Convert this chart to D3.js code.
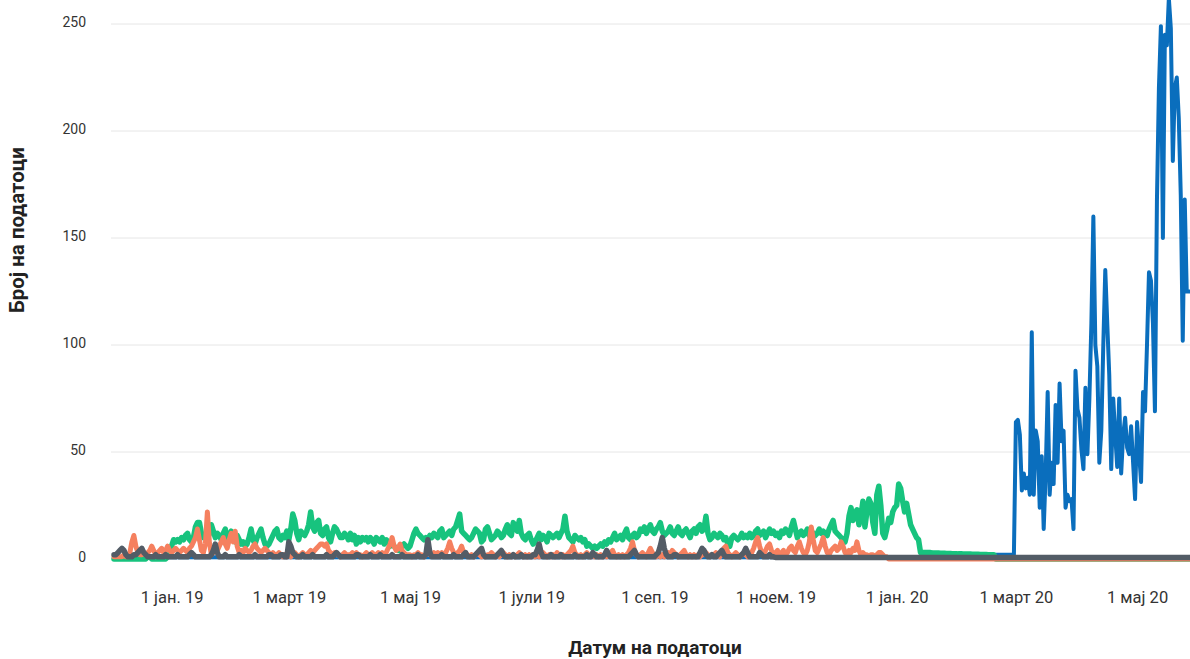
<!DOCTYPE html>
<html>
<head>
<meta charset="utf-8">
<script src="https://cdn.jsdelivr.net/npm/d3@7"></script>
<style>
  html, body { margin: 0; padding: 0; background: #ffffff; }
  svg { display: block; }
</style>
</head>
<body>
<svg id="chart" width="1190" height="659"></svg>
<script>
// ---------------- DATA ----------------
// first day of each monthly chunk of daily counts
const monthStarts = ["2018-12-03","2019-01-01","2019-02-01","2019-03-01","2019-04-01","2019-05-01",
  "2019-06-01","2019-07-01","2019-08-01","2019-09-01","2019-10-01","2019-11-01","2019-12-01",
  "2020-01-01","2020-02-01","2020-03-01","2020-04-01","2020-05-01"];

const greenCounts = [
  [0,0,0,0,0,0,0,0,0,0,0,0,0,0,0,0,0,1,1,0,0,0,0,0,0,0,0,1,2],
  [6,9,8,9,8,10,9,11,12,9,8,10,15,17,17,12,10,11,9,12,16,13,10,12,11,9,12,14,9,11,13],
  [10,8,11,9,7,8,6,7,10,14,9,7,10,12,14,10,7,6,7,9,11,13,14,10,9,11,10,13],
  [9,14,21,18,12,9,13,12,11,13,16,22,15,13,17,18,12,11,14,15,10,8,12,15,14,12,10,10,12,11,9],
  [12,9,11,7,10,8,10,9,10,8,10,9,7,10,9,8,10,7,9,8,6,7,6,5,4,4,6,7,6,5],
  [6,9,12,14,12,11,10,9,10,9,11,10,12,11,10,13,14,10,11,12,13,11,14,15,18,21,13,12,11,10,9],
  [10,12,14,13,12,8,9,14,15,12,9,10,11,13,12,10,11,14,16,12,11,17,15,13,18,12,10,9,11,12],
  [9,7,8,10,12,9,11,10,8,12,11,10,11,12,10,12,14,20,13,10,9,8,11,10,9,10,8,9,6,7,6],
  [5,6,5,6,7,6,8,7,9,8,10,12,9,10,11,9,12,14,10,9,11,12,10,11,14,13,15,12,14,16,13],
  [12,14,15,17,13,11,12,13,15,12,11,13,15,12,11,13,14,12,10,13,14,12,15,16,13,14,20,12,9,10],
  [12,11,10,12,11,9,10,7,6,10,11,10,9,10,12,10,11,10,12,10,11,13,14,11,12,13,10,12,14,12,13],
  [11,12,10,13,12,14,13,11,15,18,14,10,12,13,11,12,14,11,13,12,11,12,14,12,13,12,11,14,16,18],
  [13,12,11,10,9,8,12,20,24,18,21,23,16,20,27,15,22,28,26,17,12,30,34,25,12,10,14,19,17,22,24],
  [25,35,33,27,22,26,21,16,14,12,10,9,3,3,3,3,3,3,2.8,2.8,2.8,2.8,2.7,2.7,2.7,2.6,2.6,2.6,2.5,2.5,2.5],
  [2.4,2.4,2.4,2.3,2.3,2.3,2.3,2.2,2.2,2.2,2.2,2.1,2.1,2.1,2.1,2,2,2,2,0,0,0,0,0,0,0,0,0,0],
  [0,0,0,0,0,0,0,0,0,0,0,0,0,0,0,0,0,0,0,0,0,0,0,0,0,0,0,0,0,0,0],
  [0,0,0,0,0,0,0,0,0,0,0,0,0,0,0,0,0,0,0,0,0,0,0,0,0,0,0,0,0,0],
  [0,0,0,0,0,0,0,0,0,0,0,0,0,0,0,0,0,0,0,0,0,0,0,0,0,0,0,0]
];

const orangeCounts = [
  [1,1,1,1,1,2,1,1,3,8,11,6,3,2,2,3,2,3,4,6,4,2,3,4,5,3,4,6,4],
  [3,4,5,4,3,4,5,4,3,5,6,8,10,14,9,4,3,7,22,8,2,3,5,4,6,8,10,7,5,9,12],
  [8,13,6,3,4,3,5,4,3,4,6,7,5,4,3,4,5,4,3,2,3,2,2,3,2,1,2,1],
  [2,1,2,3,2,1,2,3,2,2,3,4,3,4,5,6,7,7,6,7,4,3,2,3,2,2,1,2,3,2,2],
  [2,3,2,3,2,2,1,2,3,2,2,3,2,2,3,2,3,2,3,5,7,10,6,4,5,7,4,3,2,2],
  [2,1,2,2,3,2,2,1,2,3,2,2,3,2,3,2,3,2,3,5,8,5,3,2,3,4,6,3,2,2,1],
  [2,1,2,3,2,1,2,1,2,2,3,2,1,2,1,2,3,2,1,2,1,2,1,2,3,2,1,2,1,2],
  [1,2,1,2,1,2,3,2,1,2,1,2,1,3,2,1,2,1,2,3,4,6,3,2,1,2,1,2,3,2,1],
  [2,1,2,1,2,1,2,1,2,3,4,2,1,2,1,2,1,2,3,5,8,4,2,1,2,3,2,1,3,5,3],
  [2,1,2,1,2,1,2,3,2,4,3,2,1,2,3,4,2,1,2,1,2,1,2,1,2,2,3,2,1,2],
  [2,3,2,1,3,5,6,3,2,1,2,3,2,1,2,3,2,1,2,3,5,8,10,6,3,2,4,6,7,4,2],
  [3,4,2,3,4,2,3,5,6,4,3,6,8,5,3,2,4,8,15,9,4,3,5,7,10,6,3,2,4,5],
  [6,4,5,8,6,3,2,4,3,5,4,8,4,2,3,2,2,1,2,2,1,2,3,3,2,1,1,0,0,0,0],
  [0,0,0,0,0,0,0,0,0,0,0,0,0,0,0,0,0,0,0,0,0,0,0,0,0,0,0,0,0,0,0],
  [0,0,0,0,0,0,0,0,0,0,0,0,0,0,0,0,0,0,0,0,0,0,0,0,0,0,0,0,0],
  [0,0,0,0,0,0,0,0,0,0,0,0,0,0,0,0,0,0,0,0,0,0,0,0,0,0,0,0,0,0,0],
  [0,0,0,0,0,0,0,0,0,0,0,0,0,0,0,0,0,0,0,0,0,0,0,0,0,0,0,0,0,0],
  [0,0,0,0,0,0,0,0,0,0,0,0,0,0,0,0,0,0,0,0,0,0,0,0,0,0,0,0]
];

const grayCounts = [
  [2,2,3,4,5,4,2,1,1,1,2,2,3,4,5,3,2,1,1,1,1,2,1,1,1,1,2,1,1],
  [1,1,1,2,1,1,1,1,1,2,3,2,1,1,1,1,1,1,1,1,2,4,7,3,1,1,1,2,1,1,1],
  [1,1,1,2,1,1,1,1,1,1,1,2,1,1,1,1,1,1,2,2,1,1,1,1,2,2,1,1],
  [8,6,3,2,1,1,1,2,1,1,1,1,2,1,1,1,1,1,1,2,1,1,1,2,3,2,1,1,1,1,1],
  [1,1,1,2,2,1,1,1,1,1,2,1,1,1,1,2,1,1,1,1,1,2,1,1,1,1,2,1,1,1],
  [1,1,1,1,2,1,1,1,2,9,3,1,1,1,1,1,2,1,1,1,1,1,2,1,1,1,1,2,3,1,1],
  [1,1,2,3,4,5,2,1,1,1,1,1,1,2,3,4,2,1,1,1,1,2,1,1,1,2,1,1,1,1],
  [1,2,2,4,7,3,1,1,1,1,2,1,1,1,1,2,1,1,1,1,1,1,2,1,1,1,1,1,2,1,1],
  [3,2,1,1,1,1,2,4,2,1,1,1,1,1,1,1,1,1,1,2,3,4,2,1,1,1,1,1,1,1,1],
  [1,2,3,6,10,5,2,1,1,1,2,2,1,1,1,1,1,1,1,1,1,1,1,3,5,4,2,1,1,2],
  [1,1,2,3,4,2,1,1,1,1,1,1,1,1,2,3,5,3,1,1,1,1,1,3,2,1,1,1,2,1,1],
  [0.7,0.7,0.7,0.7,0.7,0.7,0.7,0.7,0.7,0.7,0.7,0.7,0.7,0.7,0.7,0.7,0.7,0.7,0.7,0.7,0.7,0.7,0.7,0.7,0.7,0.7,0.7,0.7,0.7,0.7],
  [0.7,0.7,0.7,0.7,0.7,0.7,0.7,0.7,0.7,0.7,0.7,0.7,0.7,0.7,0.7,0.7,0.7,0.7,0.7,0.7,0.7,0.7,0.7,0.7,0.7,0.7,0.7,0.7,0.7,0.7,0.7],
  [0.7,0.7,0.7,0.7,0.7,0.7,0.7,0.7,0.7,0.7,0.7,0.7,0.7,0.7,0.7,0.7,0.7,0.7,0.7,0.7,0.7,0.7,0.7,0.7,0.7,0.7,0.7,0.7,0.7,0.7,0.7],
  [0.7,0.7,0.7,0.7,0.7,0.7,0.7,0.7,0.7,0.7,0.7,0.7,0.7,0.7,0.7,0.7,0.7,0.7,0.7,0.7,0.7,0.7,0.7,0.7,0.7,0.7,0.7,0.7,0.7],
  [0.7,0.7,0.7,0.7,0.7,0.7,0.7,0.7,0.7,0.7,0.7,0.7,0.7,0.7,0.7,0.7,0.7,0.7,0.7,0.7,0.7,0.7,0.7,0.7,0.7,0.7,0.7,0.7,0.7,0.7,0.7],
  [0.7,0.7,0.7,0.7,0.7,0.7,0.7,0.7,0.7,0.7,0.7,0.7,0.7,0.7,0.7,0.7,0.7,0.7,0.7,0.7,0.7,0.7,0.7,0.7,0.7,0.7,0.7,0.7,0.7,0.7],
  [0.7,0.7,0.7,0.7,0.7,0.7,0.7,0.7,0.7,0.7,0.7,0.7,0.7,0.7,0.7,0.7,0.7,0.7,0.7,0.7,0.7,0.7,0.7,0.7,0.7,0.7,0.7,0.7]
];

const blueCounts = [
  [0.8,0.8,0.8,0.8,0.8,0.8,0.8,0.8,0.8,0.8,0.8,0.8,0.8,0.8,0.8,0.8,0.8,0.8,0.8,0.8,0.8,0.8,0.8,0.8,0.8,0.8,0.8,0.8,0.8],
  [0.8,0.8,0.8,0.8,0.8,0.8,0.8,0.8,0.8,0.8,0.8,0.8,0.8,0.8,0.8,0.8,0.8,0.8,0.8,0.8,0.8,0.8,0.8,0.8,0.8,0.8,0.8,0.8,0.8,0.8,0.8],
  [0.8,0.8,0.8,0.8,0.8,0.8,0.8,0.8,0.8,0.8,0.8,0.8,0.8,0.8,0.8,0.8,0.8,0.8,0.8,0.8,0.8,0.8,0.8,0.8,0.8,0.8,0.8,0.8],
  [0.8,0.8,0.8,0.8,0.8,0.8,0.8,0.8,0.8,0.8,0.8,0.8,0.8,0.8,0.8,0.8,0.8,0.8,0.8,0.8,0.8,0.8,0.8,0.8,0.8,0.8,0.8,0.8,0.8,0.8,0.8],
  [0.8,0.8,0.8,0.8,0.8,0.8,0.8,0.8,0.8,0.8,0.8,0.8,0.8,0.8,0.8,0.8,0.8,0.8,0.8,0.8,0.8,0.8,0.8,0.8,0.8,0.8,0.8,0.8,0.8,0.8],
  [0.8,0.8,0.8,0.8,0.8,0.8,0.8,0.8,0.8,0.8,0.8,0.8,0.8,0.8,0.8,0.8,0.8,0.8,0.8,0.8,0.8,0.8,0.8,0.8,0.8,0.8,0.8,0.8,0.8,0.8,0.8],
  [0.8,0.8,0.8,0.8,0.8,0.8,0.8,0.8,0.8,0.8,0.8,0.8,0.8,0.8,0.8,0.8,0.8,0.8,0.8,0.8,0.8,0.8,0.8,0.8,0.8,0.8,0.8,0.8,0.8,0.8],
  [0.8,0.8,0.8,0.8,0.8,0.8,0.8,0.8,0.8,0.8,0.8,0.8,0.8,0.8,0.8,0.8,0.8,0.8,0.8,0.8,0.8,0.8,0.8,0.8,0.8,0.8,0.8,0.8,0.8,0.8,0.8],
  [0.8,0.8,0.8,0.8,0.8,0.8,0.8,0.8,0.8,0.8,0.8,0.8,0.8,0.8,0.8,0.8,0.8,0.8,0.8,0.8,0.8,0.8,0.8,0.8,0.8,0.8,0.8,0.8,0.8,0.8,0.8],
  [0.8,0.8,0.8,0.8,0.8,0.8,0.8,0.8,0.8,0.8,0.8,0.8,0.8,0.8,0.8,0.8,0.8,0.8,0.8,0.8,0.8,0.8,0.8,0.8,0.8,0.8,0.8,0.8,0.8,0.8],
  [0.8,0.8,0.8,0.8,0.8,0.8,0.8,0.8,0.8,0.8,0.8,0.8,0.8,0.8,0.8,0.8,0.8,0.8,0.8,0.8,0.8,0.8,0.8,0.8,0.8,0.8,0.8,0.8,0.8,0.8,0.8],
  [0.8,0.8,0.8,0.8,0.8,0.8,0.8,0.8,0.8,0.8,0.8,0.8,0.8,0.8,0.8,0.8,0.8,0.8,0.8,0.8,0.8,0.8,0.8,0.8,0.8,0.8,0.8,0.8,0.8,0.8],
  [0.8,0.8,0.8,0.8,0.8,0.8,0.8,0.8,0.8,0.8,0.8,0.8,0.8,0.8,0.8,0.8,0.8,0.8,0.8,0.8,0.8,0.8,0.8,0.8,0.8,0.8,0.8,0.8,0.8,0.8,0.8],
  [0.8,0.8,0.8,0.8,0.8,0.8,0.8,0.8,0.8,0.8,0.8,0.8,0.8,0.8,0.8,0.8,0.8,0.8,0.8,0.8,0.8,0.8,0.8,0.8,0.8,0.8,0.8,0.8,0.8,0.8,0.8],
  [0.8,0.8,0.8,0.8,0.8,0.8,0.8,0.8,0.8,0.8,0.8,0.8,0.8,0.8,0.8,0.8,0.8,0.8,0.8,2,2,2,2,2,2,2,2,2,2],
  [64,65,58,32,40,33,38,30,106,30,60,55,24,48,14,40,78,30,45,35,72,45,82,55,60,24,30,27,28,14,88],
  [70,66,51,42,80,49,75,110,160,100,90,45,60,100,135,110,86,42,75,58,43,75,40,58,66,52,49,62,45,28],
  [64,50,36,78,69,100,134,130,110,69,167,220,249,150,245,240,262,248,186,220,225,206,170,102,168,125,125,125]
];

// drawing order: first is lowest layer
const seriesKeys   = ["blue", "green", "orange", "gray"];
const seriesCounts = [blueCounts, greenCounts, orangeCounts, grayCounts];

const yTicks = [0, 50, 100, 150, 200, 250];
const xTickDates  = ["2019-01-01","2019-03-01","2019-05-01","2019-07-01","2019-09-01","2019-11-01","2020-01-01","2020-03-01","2020-05-01"];
const xTickLabels = ["1 јан. 19","1 март 19","1 мај 19","1 јули 19","1 сеп. 19","1 ноем. 19","1 јан. 20","1 март 20","1 мај 20"];
const xDomain = ["2018-12-03", "2020-05-28"];
const xTitle = "Датум на податоци";
const yTitle = "Број на податоци";

// ---------------- STYLE ----------------
const colors = { blue: "#0a6ebd", green: "#17c37e", orange: "#f5805f", gray: "#535c66" };
const widths = { blue: 4, green: 5.5, orange: 5, gray: 5.5 };

// ---------------- CHART ----------------
const parse = d3.utcParse("%Y-%m-%d");
const svg = d3.select("#chart");
const plotLeft = 111, plotRight = 1190;

const x = d3.scaleUtc()
  .domain(xDomain.map(parse))
  .range([114, 1190.7]);
const y = d3.scaleLinear()
  .domain([0, 250])
  .range([559, 24]);

function toPoints(chunks) {
  const pts = [];
  chunks.forEach((chunk, m) => {
    const start = parse(monthStarts[m]);
    chunk.forEach((v, i) => pts.push({ date: d3.utcDay.offset(start, i), value: v }));
  });
  return pts;
}

// gridlines
svg.append("g")
  .selectAll("line")
  .data(yTicks)
  .join("line")
  .attr("x1", plotLeft).attr("x2", plotRight)
  .attr("y1", d => y(d)).attr("y2", d => y(d))
  .attr("stroke", "#e6e6e6").attr("stroke-width", 1);

// y axis labels
const yAxis = svg.append("g")
  .attr("transform", `translate(${plotLeft},0)`)
  .call(d3.axisLeft(y).tickValues(yTicks).tickSize(0).tickPadding(25));
yAxis.select(".domain").remove();
yAxis.selectAll("text")
  .attr("dy", "0.2em")
  .style("font-family", "Roboto, sans-serif")
  .style("font-size", "14px")
  .attr("fill", "#333333");

// x axis labels
const xAxis = svg.append("g")
  .attr("transform", `translate(0,${y(0)})`)
  .call(d3.axisBottom(x)
    .tickValues(xTickDates.map(parse))
    .tickFormat((d, i) => xTickLabels[i])
    .tickSize(0).tickPadding(32));
xAxis.select(".domain").remove();
xAxis.selectAll("text")
  .style("font-family", "Roboto, sans-serif")
  .style("font-size", "16.5px")
  .attr("fill", "#333333");

// lines
const line = d3.line()
  .x(d => x(d.date))
  .y(d => y(d.value))
  .curve(d3.curveLinear);

svg.append("g")
  .selectAll("path")
  .data(seriesKeys.map((k, i) => ({ key: k, points: toPoints(seriesCounts[i]) })))
  .join("path")
  .attr("d", d => line(d.points))
  .attr("fill", "none")
  .attr("stroke", d => colors[d.key])
  .attr("stroke-width", d => widths[d.key])
  .attr("stroke-linejoin", "round")
  .attr("stroke-linecap", "round");

// titles
svg.append("text")
  .attr("x", 655).attr("y", 654)
  .attr("text-anchor", "middle")
  .style("font-family", "Roboto, sans-serif")
  .style("font-size", "19px")
  .style("font-weight", "bold")
  .attr("fill", "#222222")
  .text(xTitle);

svg.append("text")
  .attr("transform", "translate(24,230) rotate(-90)")
  .attr("text-anchor", "middle")
  .style("font-family", "Roboto, sans-serif")
  .style("font-size", "20.5px")
  .style("font-weight", "bold")
  .attr("fill", "#222222")
  .text(yTitle);
</script>
</body>
</html>
